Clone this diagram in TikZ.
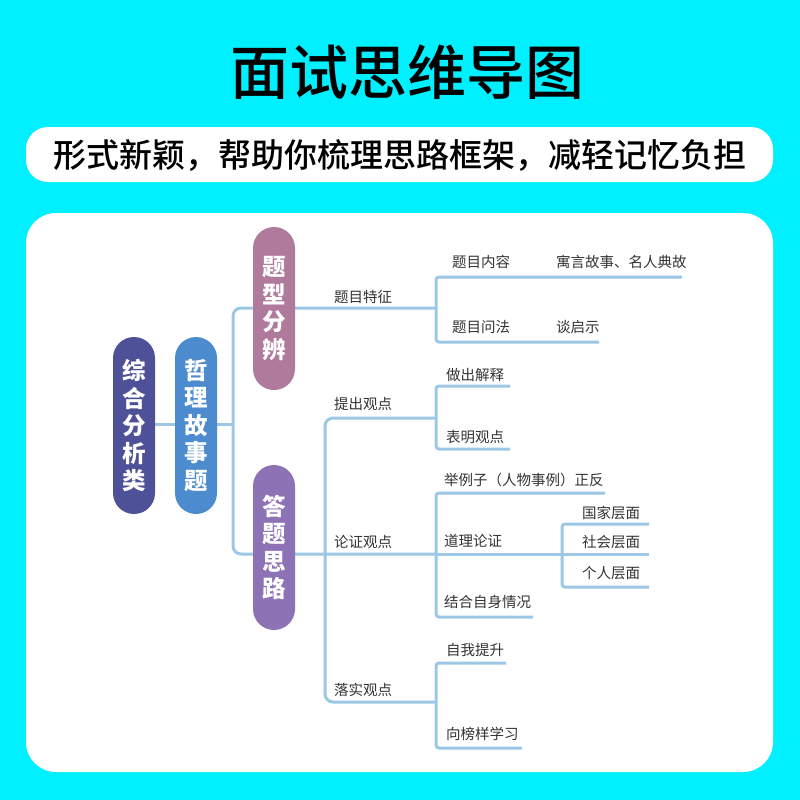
\documentclass[tikz,border=0pt]{standalone}
\usepackage{fontspec}
\setmainfont{Noto Sans CJK SC}
\newfontfamily\medfont{Noto Sans CJK SC}[UprightFont={* Medium}]
\definecolor{bgcyan}{RGB}{0,240,255}
\definecolor{lineblue}{RGB}{156,200,230}
\definecolor{labgray}{RGB}{51,51,51}
\definecolor{cA}{RGB}{78,80,152}
\definecolor{cB}{RGB}{76,140,206}
\definecolor{cC}{RGB}{176,122,156}
\definecolor{cD}{RGB}{142,114,182}
\begin{document}
\begin{tikzpicture}[x=1pt,y=-1pt,
  conn/.style={draw=lineblue, line width=3pt},
  lab/.style={anchor=west, inner sep=0pt, text=labgray, font=\fontsize{14.5}{16}\selectfont},
  pill/.style={rounded corners=21pt, minimum width=42pt, minimum height=177pt, inner sep=0pt,
    text=white, align=center, font=\bfseries\fontsize{23.5}{27.5}\selectfont}]
\useasboundingbox (0,0) rectangle (800,800);
\fill[bgcyan] (0,0) rectangle (800,800);
\node[font=\medfont\fontsize{59}{62}\selectfont, inner sep=0pt] (title) at (407,72) {面试思维导图};
\fill[white, rounded corners=22pt] (26,127) rectangle (773,182);
\node[font=\medfont\fontsize{33}{36}\selectfont, inner sep=0pt] (sub) at (400,155) {形式新颖，帮助你梳理思路框架，减轻记忆负担};
\fill[white, rounded corners=30pt] (26,213) rectangle (773,772);

% junction coordinates
\coordinate (a1) at (155,424); \coordinate (a2) at (175,424);
\coordinate (b1) at (217,424); \coordinate (b2) at (233,424);
\coordinate (t0) at (436,308); \coordinate (t1) at (233,308); \coordinate (t2) at (233,554); \coordinate (t3) at (436,554);
\coordinate (r0) at (436,418); \coordinate (r1) at (325,418); \coordinate (r2) at (325,702); \coordinate (r3) at (436,702);
\coordinate (q0) at (682,277); \coordinate (q1) at (436,277); \coordinate (q2) at (436,342); \coordinate (q3) at (599,342);
\coordinate (p0) at (510,386); \coordinate (p1) at (436,386); \coordinate (p2) at (436,449); \coordinate (p3) at (510,449);
\coordinate (s0) at (605,493); \coordinate (s1) at (436,493); \coordinate (s2) at (436,617); \coordinate (s3) at (533,617);
\coordinate (u1) at (562,554);
\coordinate (v0) at (649,524); \coordinate (v1) at (562,524); \coordinate (v2) at (562,587); \coordinate (v3) at (649,587);
\coordinate (v4) at (649,554);
\coordinate (w0) at (506,663); \coordinate (w1) at (436,663); \coordinate (w2) at (436,748); \coordinate (w3) at (522,748);

\draw[conn] (a1) -- (a2);
\draw[conn] (b1) -- (b2);
\draw[conn, rounded corners=8pt] (t0) -- (t1) -- (t2) -- (t3);
\draw[conn, rounded corners=8pt] (r0) -- (r1) -- (r2) -- (r3);
\draw[conn, rounded corners=3pt] (q0) -- (q1) -- (q2) -- (q3);
\draw[conn, rounded corners=3pt] (p0) -- (p1) -- (p2) -- (p3);
\draw[conn, rounded corners=3pt] (s0) -- (s1) -- (s2) -- (s3);
\draw[conn] (t3) -- (u1);
\draw[conn, rounded corners=3pt] (v0) -- (v1) -- (v2) -- (v3);
\draw[conn] (u1) -- (v4);
\draw[conn, rounded corners=3pt] (w0) -- (w1) -- (w2) -- (w3);

\node[pill, fill=cA] (zh) at (134,425.5) {综\\合\\分\\析\\类};
\node[pill, fill=cB] (zl) at (196,425.5) {哲\\理\\故\\事\\题};
\node[pill, fill=cC, minimum height=163pt] (tx) at (274,308.5) {题\\型\\分\\辨};
\node[pill, fill=cD, minimum height=165pt] (dt) at (274,547.5) {答\\题\\思\\路};

\node[lab] (l1) at (334,297) {题目特征};
\node[lab] (l2) at (452,262) {题目内容};
\node[lab] (l3) at (556,262) {寓言故事、名人典故};
\node[lab] (l4) at (452,327) {题目问法};
\node[lab] (l5) at (556,327) {谈启示};
\node[lab] (l6) at (334,404) {提出观点};
\node[lab] (l7) at (446,375) {做出解释};
\node[lab] (l8) at (446,437) {表明观点};
\node[lab] (l9) at (334,542) {论证观点};
\node[lab] (l10) at (444,480) {举例子（人物事例）正反};
\node[lab] (l11) at (444,541) {道理论证};
\node[lab] (l12) at (582,513) {国家层面};
\node[lab] (l13) at (582,542) {社会层面};
\node[lab] (l14) at (582,573) {个人层面};
\node[lab] (l15) at (444,602) {结合自身情况};
\node[lab] (l16) at (334,690) {落实观点};
\node[lab] (l17) at (446,650) {自我提升};
\node[lab] (l18) at (446,734) {向榜样学习};
\end{tikzpicture}
\end{document}
